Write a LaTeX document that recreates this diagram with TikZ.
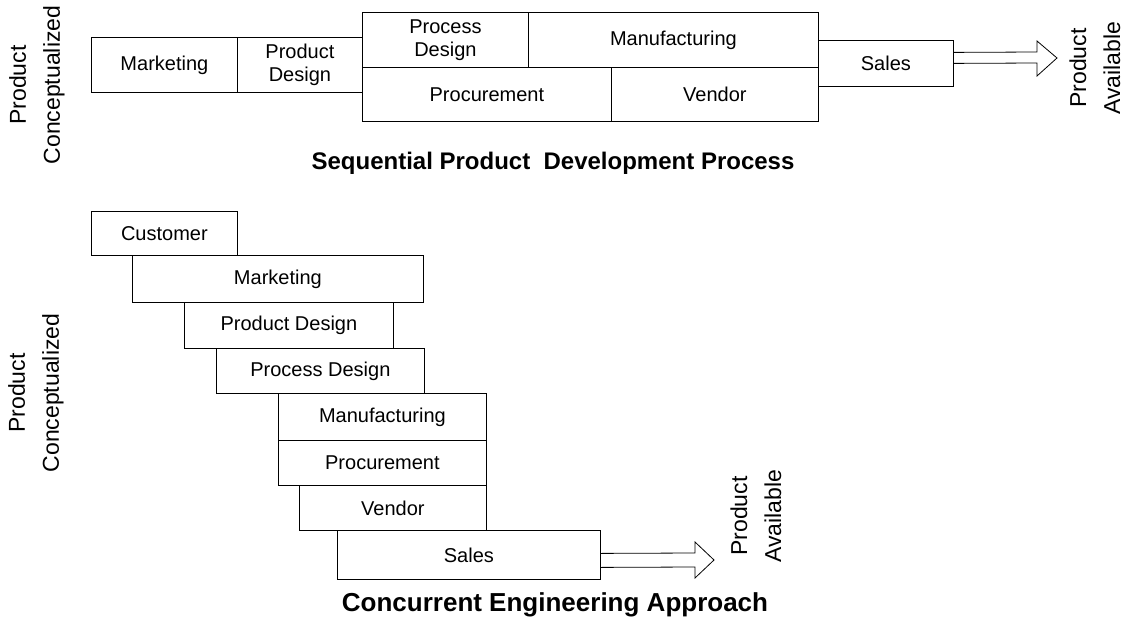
\documentclass[tikz,border=0pt]{standalone}
\usepackage{fontspec}
\setmainfont{Liberation Sans}
\usetikzlibrary{calc}
\begin{document}
\begin{tikzpicture}[x=1pt,y=-1pt,
  stage/.style={draw, line width=0.8pt, inner sep=0pt, align=center,
    anchor=north west, font=\fontsize{20}{23}\selectfont},
  side/.style={rotate=90, align=center, inner sep=0pt,
    font=\fontsize{23}{34}\selectfont},
  heading/.style={inner sep=0pt, font=\fontsize{24}{28}\selectfont\bfseries},
  flow/.style={draw, line width=0.8pt, line join=miter}]
\useasboundingbox (0,0) rectangle (1125,618);

% ---- Sequential process ----
\node[stage, minimum width=146pt, minimum height=55pt] (m1)   at (91,37)  {Marketing};
\node[stage, minimum width=125pt, minimum height=55pt] (pd1)  at (237,37) {Product\\Design};
\node[stage, minimum width=166pt, minimum height=55pt] (psd1) at (362,12) {Process\\Design};
\node[stage, minimum width=290pt, minimum height=55pt] (mf1)  at (528,12) {Manufacturing};
\node[stage, minimum width=249pt, minimum height=54pt] (pc1)  at (362,67) {Procurement};
\node[stage, minimum width=207pt, minimum height=54pt] (v1)   at (611,67) {Vendor};
\node[stage, minimum width=135pt, minimum height=46pt] (s1)   at (818,40) {Sales};

\coordinate (tip1) at (1057,58);
\draw[flow] ($(s1.east)+(0,-11)$) -- (1037,52) -- (1037,41) -- (tip1)
  -- (1037,76) -- (1037,63) -- (s1.east);

\node[side] (pcon1) at (37,85)   {Product\\Conceptualized};
\node[side] (pav1)  at (1095,68) {Product\\Available};
\node[heading] (t1) at (553,163) {Sequential Product~ Development Process};

% ---- Concurrent engineering ----
\node[stage, minimum width=146pt, minimum height=44pt] (c2)   at (91,211)  {Customer};
\node[stage, minimum width=291pt, minimum height=47pt] (m2)   at (132,255) {Marketing};
\node[stage, minimum width=209pt, minimum height=46pt] (pd2)  at (184,302) {Product Design};
\node[stage, minimum width=208pt, minimum height=45pt] (psd2) at (216,348) {Process Design};
\node[stage, minimum width=208pt, minimum height=47pt] (mf2)  at (278,393) {Manufacturing};
\node[stage, minimum width=208pt, minimum height=45pt] (pc2)  at (278,440) {Procurement};
\node[stage, minimum width=187pt, minimum height=45pt] (v2)   at (299,485) {Vendor};
\node[stage, minimum width=263pt, minimum height=49pt] (s2)   at (337,530) {Sales};

\coordinate (tip2) at (714,560);
\draw[flow] ($(s2.east)+(0,-1.5)$) -- (695,553) -- (695,542) -- (tip2)
  -- (695,578) -- (695,567) -- ($(s2.east)+(0,12.5)$);

\node[side] (pcon2) at (36,393)  {Product\\Conceptualized};
\node[side] (pav2)  at (756,516) {Product\\Available};
\node[heading, font=\fontsize{26}{30}\selectfont\bfseries] (t2) at (555,605) {Concurrent Engineering Approach};
\end{tikzpicture}
\end{document}
